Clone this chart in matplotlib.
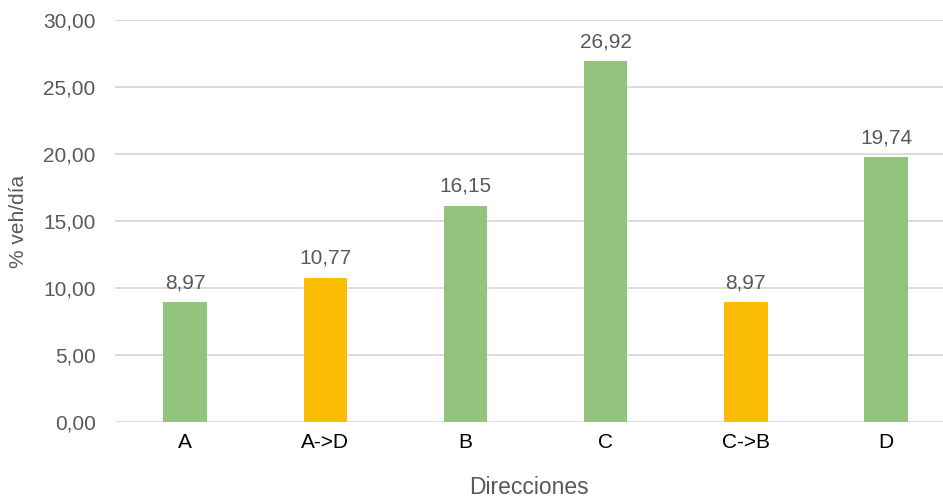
import matplotlib
matplotlib.use("Agg")
import matplotlib.pyplot as plt
from matplotlib.ticker import FuncFormatter, MultipleLocator

categorias = ["A", "A->D", "B", "C", "C->B", "D"]
porcentajes = [8.97, 10.77, 16.15, 26.92, 8.97, 19.74]
colores = ["#93C47D", "#FBBC04", "#93C47D", "#93C47D", "#FBBC04", "#93C47D"]

gris = "#595959"

fig = plt.figure(figsize=(9.43, 5.01), dpi=100)
ax = fig.add_axes([115 / 943, 79 / 501, 1 - 115 / 943, 402 / 501])

x = range(len(categorias))
ax.bar(x, porcentajes, width=0.31, color=colores, zorder=3)

ax.set_ylim(0, 30)
ax.set_xlim(-0.5, 5.407)
ax.yaxis.set_major_locator(MultipleLocator(5))

fmt = lambda v: f"{v:.2f}".replace(".", ",")
ax.yaxis.set_major_formatter(FuncFormatter(lambda v, p: fmt(v)))

ax.grid(axis="y", color="#D9D9D9", linewidth=1.3, zorder=0)
for s in ax.spines.values():
    s.set_visible(False)
ax.tick_params(axis="both", length=0)
ax.tick_params(axis="y", labelsize=15, labelcolor=gris, pad=14)
ax.set_xticks(list(x))
ax.set_xticklabels(categorias, fontsize=15, color="black", family="Liberation Sans")
ax.tick_params(axis="x", pad=8)
for lbl in ax.get_yticklabels():
    lbl.set_family("Liberation Sans")

for xi, v in zip(x, porcentajes):
    ax.annotate(fmt(v), (xi, v), xytext=(0, 7), textcoords="offset points",
                ha="center", va="bottom", fontsize=15, color=gris,
                family="Liberation Sans")

ax.set_xlabel("Direcciones", fontsize=16.5, color=gris, family="Liberation Sans", labelpad=17)
ax.set_ylabel("% veh/día", fontsize=15, color=gris, family="Liberation Sans", labelpad=11)

fig.savefig("out.png", dpi=100)
